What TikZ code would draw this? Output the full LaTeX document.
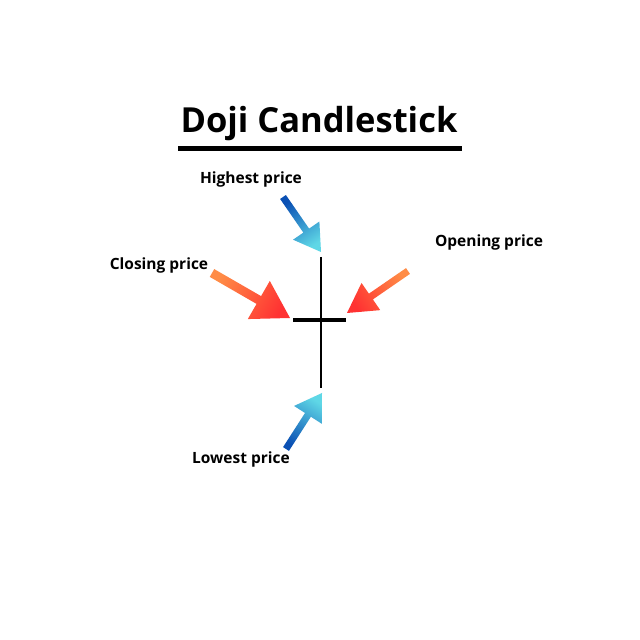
\documentclass[tikz,border=0pt]{standalone}
\usepackage{fontspec}
\setmainfont{Open Sans}
\usetikzlibrary{calc}
\definecolor{bluetail}{RGB}{10,80,180}
\definecolor{bluetip}{RGB}{95,215,230}
\definecolor{orangetail}{RGB}{255,140,70}
\definecolor{redtip}{RGB}{255,50,50}
\tikzset{
  lbl/.style={font=\bfseries\fontsize{15.5}{18}\selectfont, text=black, inner sep=0pt},
  ttl/.style={font=\bfseries\fontsize{34.5}{40}\selectfont, text=black, inner sep=0pt},
}
% #1 tail, #2 tip, #3 shaft half width, #4 head length, #5 head half width, #6 shading options
\newcommand\gradarrow[6]{%
  \coordinate (hb) at ($(#2)!#4!(#1)$);
  \path[#6] ($(#1)!#3!90:(#2)$) -- ($(hb)!#3!-90:(#1)$) -- ($(hb)!#5!-90:(#1)$) -- (#2)
     -- ($(hb)!#5!90:(#1)$) -- ($(hb)!#3!90:(#1)$) -- ($(#1)!#3!-90:(#2)$) -- cycle;
}
\begin{document}
\begin{tikzpicture}[x=1pt,y=1pt]
\path[use as bounding box, fill=white] (0,0) rectangle (640,640);
% title
\node[ttl] (title) at (319,516) {Doji Candlestick};
\coordinate (ulL) at (178,491);
\coordinate (ulR) at (462,491);
\draw[line width=5pt] (ulL) -- (ulR);
% candle
\coordinate (vt) at (321,383);
\coordinate (vb) at (321,252);
\coordinate (hl) at (293,320);
\coordinate (hr) at (346,320);
\draw[line width=2.6pt] (vt) -- (vb);
\draw[line width=3.6pt] (hl) -- (hr);
% labels
\node[lbl] (high) at (251,461) {Highest price};
\node[lbl] (close) at (159,375) {Closing price};
\node[lbl] (open) at (489,398) {Opening price};
\node[lbl] (low) at (241,181) {Lowest price};
% arrows
\coordinate (hT) at (283,443); \coordinate (hP) at (321,388);
\coordinate (cT) at (212,367); \coordinate (cP) at (290,322);
\coordinate (oT) at (408,369); \coordinate (oP) at (347,327);
\coordinate (lT) at (286,191); \coordinate (lP) at (322,247);
\gradarrow{hT}{hP}{3.5pt}{26pt}{16pt}{top color=bluetip,bottom color=bluetail,shading angle=-145.4}
\gradarrow{cT}{cP}{4.5pt}{36pt}{22pt}{top color=redtip,bottom color=orangetail,shading angle=-120}
\gradarrow{oT}{oP}{3.5pt}{29pt}{16.5pt}{top color=redtip,bottom color=orangetail,shading angle=124.5}
\gradarrow{lT}{lP}{3.5pt}{26pt}{16.5pt}{top color=bluetip,bottom color=bluetail,shading angle=-32.7}
\end{tikzpicture}
\end{document}
